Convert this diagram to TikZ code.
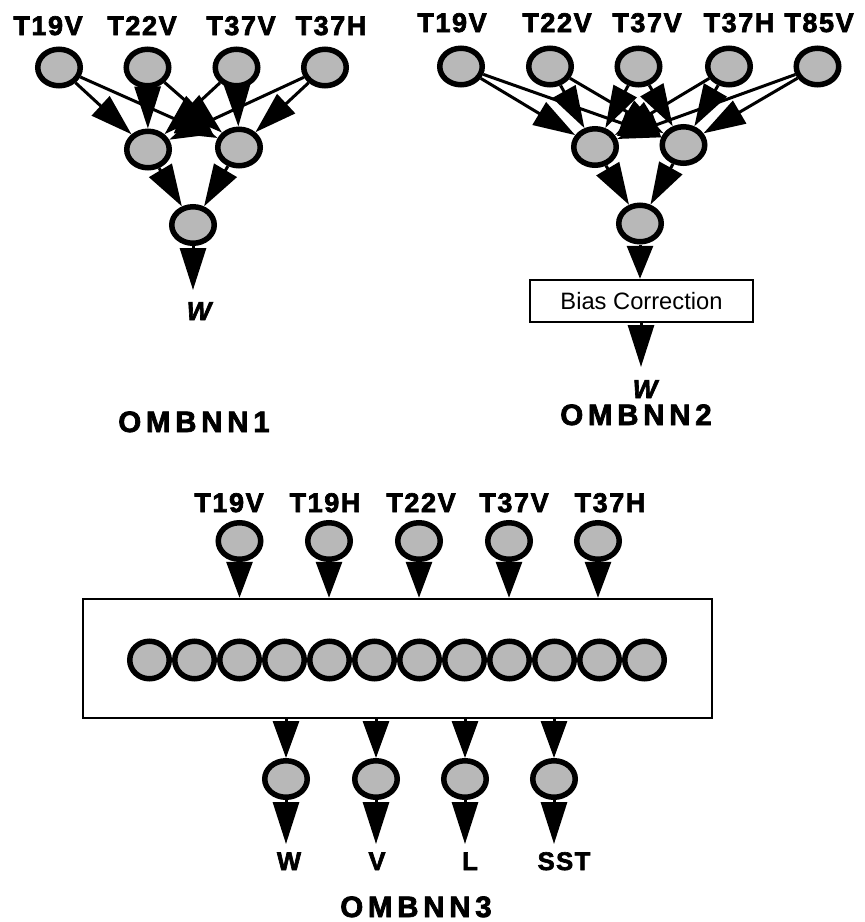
\documentclass[tikz,border=0pt]{standalone}
\usepackage{fontspec}
\setmainfont{Liberation Sans}
\newfontfamily\lspa{Liberation Sans Bold}[LetterSpace=6,FakeBold=2.5]
\newfontfamily\lspb{Liberation Sans Bold}[LetterSpace=16,FakeBold=2.5]
\newfontfamily\wfont{Liberation Sans Bold Italic}[FakeBold=2.5]
\usetikzlibrary{shapes.geometric,arrows.meta}
\definecolor{ngray}{gray}{0.72}
\tikzset{
  neuron/.style={ellipse,draw,line width=5.5pt,fill=ngray,minimum width=42.5pt,minimum height=36.5pt,inner sep=0pt},
  cell/.style={ellipse,draw,line width=5.5pt,fill=ngray,minimum width=39.5pt,minimum height=37.5pt,inner sep=0pt},
  conn/.style={line width=3pt,-{Triangle[length=#1,width=26pt]}},
  conn/.default=42pt,
  boxed/.style={draw,line width=2.5pt,rectangle,inner sep=0pt},
  inlab/.style={anchor=base,inner sep=0pt,font=\fontsize{27}{30}\selectfont\lspa},
  outlab/.style={anchor=base,inner sep=0pt,font=\fontsize{25.5}{28}\selectfont\lspa},
  wlab/.style={anchor=base,inner sep=0pt,font=\fontsize{26}{28}\selectfont\wfont},
  title/.style={anchor=base,inner sep=0pt,font=\fontsize{29.5}{32}\selectfont\lspb},
}
\begin{document}
\begin{tikzpicture}[x=1pt,y=-1pt]
\useasboundingbox (0,0) rectangle (865,922);
% ---------------- OMBNN1 ----------------
\node[inlab] (la1) at (48,35) {T19V};
\node[inlab] (la2) at (142,35) {T22V};
\node[inlab] (la3) at (241,35) {T37V};
\node[inlab] (la4) at (331,35) {T37H};
\node[neuron] (a1) at (59,67.5) {};
\node[neuron] (a2) at (147.5,67.5) {};
\node[neuron] (a3) at (236.5,67.5) {};
\node[neuron] (a4) at (325,67.5) {};
\node[neuron] (h1) at (148,149.5) {};
\node[neuron] (h2) at (239,147.5) {};
\node[neuron] (o1) at (193,225) {};
\foreach \s in {a1,a2,a3,a4}{
  \draw[conn] (\s) -- (h1);
  \draw[conn] (\s) -- (h2);
}
\draw[conn] (h1) -- (o1);
\draw[conn] (h2) -- (o1);
\coordinate (w1) at (193,290);
\draw[conn] (o1) -- (w1);
\node[wlab] (lw1) at (199,320) {W};
\node[title] (t1) at (194,432) {OMBNN1};
% ---------------- OMBNN2 ----------------
\node[inlab] (lb1) at (452,32) {T19V};
\node[inlab] (lb2) at (557,32) {T22V};
\node[inlab] (lb3) at (647,32) {T37V};
\node[inlab] (lb4) at (739,32) {T37H};
\node[inlab] (lb5) at (819,32) {T85V};
\node[neuron] (b1) at (461,66.5) {};
\node[neuron] (b2) at (550,66.5) {};
\node[neuron] (b3) at (638.5,66.5) {};
\node[neuron] (b4) at (729,66.5) {};
\node[neuron] (b5) at (817.5,66.5) {};
\node[neuron] (g1) at (595,147) {};
\node[neuron] (g2) at (683.5,145) {};
\node[neuron] (o2) at (640,223.5) {};
\foreach \s in {b1,b2,b3,b4,b5}{
  \draw[conn] (\s) -- (g1);
  \draw[conn] (\s) -- (g2);
}
\draw[conn] (g1) -- (o2);
\draw[conn] (g2) -- (o2);
\node[boxed,minimum width=223pt,minimum height=42pt,font=\fontsize{23.7}{26}\selectfont] (bc) at (641.5,301) {Bias Correction};
\draw[conn=33pt] (o2) -- (o2 |- bc.north);
\coordinate (w2) at (641,367);
\draw[conn] (w2 |- bc.south) -- (w2);
\node[wlab] (lw2) at (645,398) {W};
\node[title] (t2) at (636,425) {OMBNN2};
% ---------------- OMBNN3 ----------------
\node[inlab] (lc1) at (229,512) {T19V};
\node[inlab] (lc2) at (325,512) {T19H};
\node[inlab] (lc3) at (421,512) {T22V};
\node[inlab] (lc4) at (514,512) {T37V};
\node[inlab] (lc5) at (610,512) {T37H};
\node[neuron] (c1) at (239.5,541) {};
\node[neuron] (c2) at (329,541) {};
\node[neuron] (c3) at (419,541) {};
\node[neuron] (c4) at (509,541) {};
\node[neuron] (c5) at (598,541) {};
\node[boxed,minimum width=629pt,minimum height=119pt] (hb) at (397.5,658.5) {};
\foreach \k in {0,...,11}{
  \node[cell] (r\k) at (149.5+45*\k,660) {};
}
\foreach \s in {c1,c2,c3,c4,c5}{
  \draw[conn=36pt] (\s) -- (\s |- hb.north);
}
\node[neuron] (q1) at (286,779) {};
\node[neuron] (q2) at (376,779) {};
\node[neuron] (q3) at (465,779) {};
\node[neuron] (q4) at (554,779) {};
\coordinate (e1) at (286,844);
\coordinate (e2) at (376,844);
\coordinate (e3) at (465,844);
\coordinate (e4) at (554,844);
\foreach \i in {1,2,3,4}{
  \draw[conn=37pt] (q\i |- hb.south) -- (q\i);
  \draw[conn] (q\i) -- (e\i);
}
\node[outlab] (lo1) at (289,870) {W};
\node[outlab] (lo2) at (377,870) {V};
\node[outlab] (lo3) at (470,870) {L};
\node[outlab] (lo4) at (564,870) {SST};
\node[title] (t3) at (416,917) {OMBNN3};
\end{tikzpicture}
\end{document}
